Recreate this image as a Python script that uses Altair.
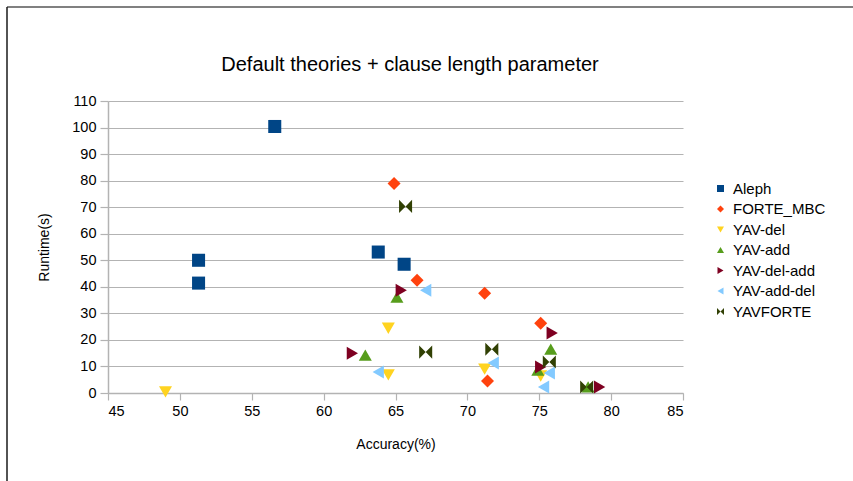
import altair as alt
import pandas as pd

series = ["Aleph", "FORTE_MBC", "YAV-del", "YAV-add", "YAV-del-add", "YAV-add-del", "YAVFORTE"]
colors = ["#004586", "#ff420e", "#ffd320", "#579d1c", "#7e0021", "#83caff", "#314004"]
bowtie = "M-1,-1L0,0L-1,1Z M1,-1L0,0L1,1Z"
shapes = ["square", "diamond", "triangle-down", "triangle-up", "triangle-right", "triangle-left", bowtie]
title_text = ["Default theories + clause length parameter"]

aleph_acc = [56.6, 51.3, 51.3, 63.8, 65.6]
aleph_rt = [100.4, 50.0, 41.4, 53.1, 48.5]
forte_acc = [64.9, 66.5, 71.2, 75.1, 71.4]
forte_rt = [78.9, 42.5, 37.6, 26.3, 4.5]
del_acc = [49.0, 64.5, 64.5, 71.2, 75.1]
del_rt = [0.4, 24.4, 6.8, 9.0, 6.4]
add_acc = [65.1, 62.9, 75.8, 74.9, 78.4]
add_rt = [36.1, 14.3, 16.5, 8.6, 2.3]
deladd_acc = [62.0, 65.4, 75.9, 75.1, 79.2]
deladd_rt = [15.0, 38.7, 22.6, 9.8, 2.3]
adddel_acc = [67.1, 63.8, 71.8, 75.7, 75.3]
adddel_rt = [38.7, 7.9, 11.3, 7.5, 2.3]
yf_acc = [65.7, 67.1, 71.7, 75.7, 78.3]
yf_rt = [70.3, 15.4, 16.5, 11.7, 2.3]

x_ticks = [45, 50, 55, 60, 65, 70, 75, 80, 85]
y_ticks = [0, 10, 20, 30, 40, 50, 60, 70, 80, 90, 100, 110]

accs = [aleph_acc, forte_acc, del_acc, add_acc, deladd_acc, adddel_acc, yf_acc]
rts = [aleph_rt, forte_rt, del_rt, add_rt, deladd_rt, adddel_rt, yf_rt]
rows = []
for i, (name, a, r) in enumerate(zip(series, accs, rts)):
    for ai, ri in zip(a, r):
        rows.append({"series": name, "acc": ai, "rt": ri, "idx": i})
df = pd.DataFrame(rows)

FONT = "Liberation Sans"

points = alt.Chart(df).mark_point(filled=True, size=170, opacity=1, strokeWidth=0).encode(
    x=alt.X("acc:Q", title="Accuracy(%)",
            scale=alt.Scale(domain=[45, 85], nice=False, zero=False),
            axis=alt.Axis(values=x_ticks, grid=False, tickSize=7, labelPadding=4,
                          titlePadding=20)),
    y=alt.Y("rt:Q", title="Runtime(s)",
            scale=alt.Scale(domain=[0, 110], nice=False),
            axis=alt.Axis(values=y_ticks, grid=True, tickSize=8, labelPadding=4,
                          titlePadding=20)),
    color=alt.Color("series:N", scale=alt.Scale(domain=series, range=colors),
                    legend=alt.Legend(title=None, orient="none", legendX=605, legendY=80,
                                      symbolSize=49, labelFontSize=15, labelFont=FONT,
                                      labelColor="#000000", rowPadding=4.5, labelOffset=5,
                                      symbolStrokeWidth=0)),
    shape=alt.Shape("series:N", scale=alt.Scale(domain=series, range=shapes), legend=None),
    order=alt.Order("idx:Q"),
)

frame = pd.DataFrame({"k": [0]})
top_line = alt.Chart(frame).mark_rule(color="#808080", strokeWidth=2).encode(
    x=alt.value(-101), x2=alt.value(745), y=alt.value(-94))
left_line = alt.Chart(frame).mark_rule(color="#1a1a1a", strokeWidth=1.5).encode(
    x=alt.value(-101), y=alt.value(-94), y2=alt.value(380))

title = alt.Chart(pd.DataFrame({"t": title_text})).mark_text(
    font=FONT, fontSize=20, color="#000000", align="center", baseline="alphabetic"
).encode(text="t:N", x=alt.value(302), y=alt.value(-30))

chart = alt.layer(top_line, left_line, title, points).properties(
    width=575, height=292,
    background="white",
    autosize=alt.AutoSizeParams(type="none"),
    padding={"left": 108, "top": 101, "right": 170, "bottom": 88},
).configure_view(stroke=None).configure_axis(
    labelFont=FONT, labelFontSize=14.5, labelColor="#000000",
    titleFont=FONT, titleFontSize=14, titleColor="#000000", titleFontWeight="normal",
    domainColor="#b3b3b3", tickColor="#b3b3b3", gridColor="#b3b3b3",
    domainWidth=1.5, tickWidth=1.2, gridWidth=1.2,
)

chart.save("out.html", embed_options={"renderer": "svg", "actions": False})
